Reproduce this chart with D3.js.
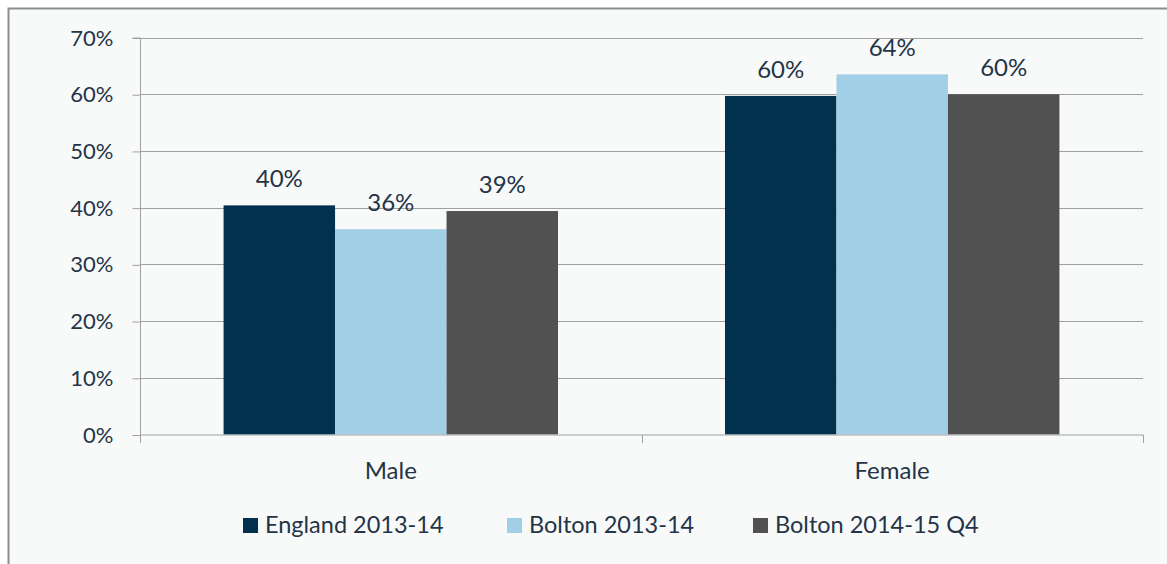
<!DOCTYPE html>
<html><head><meta charset="utf-8">
<script src="https://cdn.jsdelivr.net/npm/d3@7"></script>
<style>html,body{margin:0;padding:0;background:#fff;}svg{display:block;}</style>
</head><body><svg id="c" width="1167" height="564"></svg>
<script>
const categories = ["Male", "Female"];
const seriesNames = ["England 2013-14", "Bolton 2013-14", "Bolton 2014-15 Q4"];
const england = [40.4, 59.7];
const bolton = [36.2, 63.5];
const boltonQ4 = [39.4, 60.0];
const dataLabels = [["40%", "36%", "39%"], ["60%", "64%", "60%"]];
const yTicks = [0, 10, 20, 30, 40, 50, 60, 70];
const colors = ["#02314f", "#a1d0e6", "#515151"];
const textColor = "#243447";
const font = "Lato, 'Open Sans', sans-serif";

const series = [england, bolton, boltonQ4];
const svg = d3.select("#c");

svg.append("rect").attr("x", 8.5).attr("y", 8.5).attr("width", 1170).attr("height", 570)
  .attr("fill", "#f8fafa").attr("stroke", "#8c8c8c").attr("stroke-width", 2);

const L = 140, R = 1143, T = 37.5, B = 434.5;
const y = d3.scaleLinear().domain([0, 70]).range([B, T]);
const x0 = d3.scaleBand().domain(categories).range([L, R]).paddingInner(0.333).paddingOuter(0.1667);
const x1 = d3.scaleBand().domain(d3.range(3)).range([0, x0.bandwidth()]);

// gridlines
svg.append("g").selectAll("line").data(yTicks.filter(d => d > 0)).join("line")
  .attr("x1", L).attr("x2", R).attr("y1", d => Math.round(y(d)) + 0.5).attr("y2", d => Math.round(y(d)) + 0.5)
  .attr("stroke", "#a0a0a0").attr("stroke-width", 1);

// bars
const g = svg.append("g");
categories.forEach((c, ci) => {
  series.forEach((s, si) => {
    const bx = x0(c) + x1(si);
    g.append("rect").attr("x", bx).attr("y", y(s[ci])).attr("width", x1.bandwidth()).attr("height", B - y(s[ci]))
      .attr("fill", colors[si]);
    g.append("text").attr("x", bx + x1.bandwidth() / 2).attr("y", y(s[ci]) - 18)
      .attr("text-anchor", "middle").attr("font-family", font).attr("font-size", 24).attr("fill", textColor)
      .text(dataLabels[ci][si]);
  });
});

// y axis
const yAxis = d3.axisLeft(y).tickValues(yTicks).tickFormat(d => d + "%").tickSize(8).tickPadding(19);
const ya = svg.append("g").attr("transform", `translate(${L + 0.5},0.5)`).call(yAxis);
ya.select(".domain").attr("stroke", "#a0a0a0").attr("d", `M-8,${T}H0V${B}`);
ya.selectAll(".tick line").attr("stroke", "#a0a0a0");
ya.selectAll(".tick text").attr("font-family", font).attr("font-size", 22).attr("fill", textColor);

// x axis
const xa = svg.append("g").attr("transform", `translate(0,${B + 0.5})`);
xa.append("line").attr("x1", L).attr("x2", R + 0.5).attr("stroke", "#a0a0a0");
[L, (L + R) / 2, R].forEach(t => xa.append("line").attr("x1", Math.round(t) + 0.5).attr("x2", Math.round(t) + 0.5)
  .attr("y1", 0).attr("y2", 8).attr("stroke", "#a0a0a0"));
xa.selectAll("text.cat").data(categories).join("text").attr("class", "cat")
  .attr("x", d => x0(d) + x0.bandwidth() / 2).attr("y", 44).attr("text-anchor", "middle")
  .attr("font-family", font).attr("font-size", 24).attr("fill", textColor).text(d => d);

// legend
const legendX = [243, 507, 753];
const lg = svg.append("g");
seriesNames.forEach((n, i) => {
  lg.append("rect").attr("x", legendX[i]).attr("y", 518).attr("width", 15).attr("height", 15).attr("fill", colors[i]);
  lg.append("text").attr("x", legendX[i] + 22).attr("y", 533).attr("font-family", font).attr("font-size", 23.5)
    .attr("fill", textColor).text(n);
});
</script></body></html>
